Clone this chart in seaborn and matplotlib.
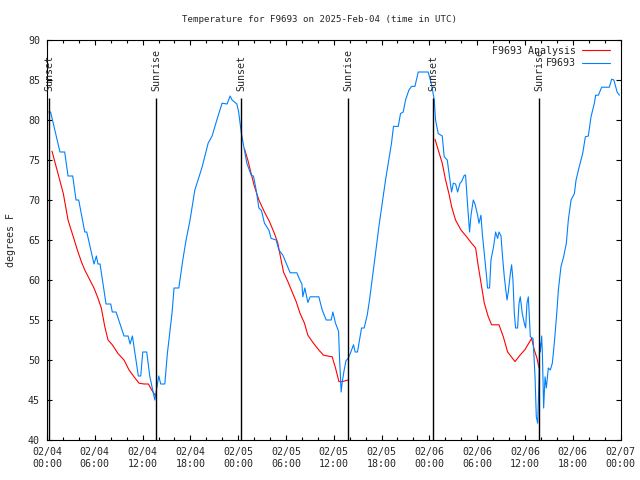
import numpy as np
import pandas as pd
import seaborn as sns
import matplotlib
matplotlib.use("Agg")
import matplotlib.pyplot as plt
import matplotlib.dates as mdates

# observed temps (hours after 2025-02-04 00:00 UTC, deg F)
obs_hours = [0.2, 0.45, 1.63, 2.22, 2.64, 3.23, 3.64, 3.98, 4.74, 4.99, 5.9, 6.2, 6.4, 6.66,
             7.41, 8.0, 8.2, 8.67, 9.67, 10.18, 10.43, 10.72, 11.47, 11.77, 12.02, 12.52, 12.9,
             13.53, 14.03, 14.28, 14.79, 15.11, 15.7, 15.95, 16.55, 17.05, 17.46, 17.96, 18.56,
             19.47, 20.23, 20.73, 21.32, 21.98, 22.61, 22.99, 23.24, 23.83, 24.06, 24.41, 24.79,
             25.09, 25.63, 25.92, 26.26, 26.6, 26.92, 27.3, 27.85, 28.14, 28.77, 29.11, 29.61,
             30.03, 30.53, 31.37, 31.7, 32.0, 32.12, 32.37, 32.75, 33.04, 34.13, 34.55, 35.05,
             35.68, 35.89, 36.22, 36.6, 36.72, 36.93, 37.06, 37.31, 37.53, 37.81, 38.07, 38.48,
             38.69, 38.98, 39.23, 39.49, 39.82, 40.2, 40.49, 40.92, 41.24, 41.67, 42.09, 42.5,
             42.84, 43.25, 43.5, 44.1, 44.38, 44.72, 45.01, 45.44, 45.77, 46.19, 46.61, 47.86,
             48.28, 48.62, 48.78, 49.12, 49.62, 49.87, 50.25, 50.59, 50.79, 51.01, 51.3, 51.55,
             51.85, 52.05, 52.39, 52.55, 52.8, 53.05, 53.23, 53.52, 53.73, 54.06, 54.23, 54.48,
             54.65, 54.9, 55.19, 55.31, 55.56, 55.74, 56.07, 56.32, 56.57, 56.75, 57.0, 57.16,
             57.41, 57.75, 57.91, 58.17, 58.33, 58.5, 58.67, 58.83, 59.08, 59.26, 59.42, 59.67,
             59.92, 60.09, 60.26, 60.43, 60.68, 61.02, 61.27, 61.43, 61.6, 61.68, 61.77, 61.85,
             61.93, 62.1, 62.19, 62.35, 62.53, 62.69, 62.94, 63.19, 63.44, 63.69, 64.03, 64.2,
             64.53, 64.86, 65.2, 65.45, 65.79, 66.21, 66.42, 66.83, 67.25, 67.59, 67.96, 68.3,
             68.72, 68.88, 69.22, 69.64, 70.6, 70.89, 71.17, 71.57, 71.86]
obs_temp = [81, 81, 76, 76, 73, 73, 70, 70, 66, 66, 62, 63, 62, 62,
            57, 57, 56, 56, 53, 53, 52, 53, 48, 48, 51, 51, 48,
            45, 48, 47, 47, 50.8, 55.9, 59, 59, 62.5, 65, 67.5, 71.25,
            74.1, 77.1, 78, 80, 82.1, 82, 83, 82.5, 82, 81, 78.3, 76.25,
            74.6, 73.1, 73, 71.25, 69, 68.7, 67.1, 66.25, 65.2, 65, 63.75, 63.1,
            62.1, 60.9, 60.9, 60.1, 59.5, 57.9, 59, 57.2, 57.9, 57.9, 56.25, 55,
            55, 56, 54.6, 53.6, 50.4, 46, 47.2, 48.75, 49.9, 50.2, 50.8, 51.9,
            51, 51, 52.5, 54, 54, 55.6, 57.5, 60.8, 63.3, 66.7, 69.6, 72.5,
            74.6, 77.1, 79.2, 79.2, 80.8, 81, 82.5, 83.75, 84.2, 84.2, 86, 86,
            84.4, 82.5, 80, 78.3, 78, 75.4, 75, 72.5, 71, 72.1, 72, 71,
            72.1, 72.3, 73.1, 73.1, 69.4, 66, 68.1, 70, 69.5, 68.1, 67.1, 68.1,
            65.8, 63.3, 60.4, 59, 59, 62.5, 64.2, 66, 65.2, 66, 65.5, 63.3,
            60.4, 57.5, 58.5, 60.8, 61.9, 60, 55.8, 54, 54, 57.1, 57.9, 55.8,
            54.6, 54, 57.1, 57.9, 52.9, 52.7, 47.9, 42.9, 42.1, 44.5, 47.9, 52.1,
            51, 53, 51, 44, 47.9, 46.5, 49, 48.75, 49.6, 52.1, 56.25, 58.75,
            61.7, 62.9, 64.6, 67.5, 70, 70.8, 72.5, 74.2, 75.8, 77.9, 78, 80.4,
            82.1, 83.1, 83.1, 84.1, 84.1, 85.1, 85, 83.5, 83.1]

# analysis temps, one piece per night (sunset to sunrise)
ana_hours = [[0.63, 1.38, 2.05, 2.64, 3.3, 3.81, 4.31, 4.74, 5.28, 5.9, 6.41, 6.82, 7.25,
              7.66, 8.2, 8.92, 9.67, 10.3, 10.93, 11.56, 12.19, 12.73, 13.15, 13.57, 13.69],
             [24.79, 25.21, 25.63, 26.04, 26.6, 27.3, 27.93, 28.56, 28.98, 29.27, 29.69, 30.24,
              30.78, 31.28, 31.78, 32.32, 32.75, 33.45, 34.13, 34.71, 35.8, 36.22, 36.65,
              37.06, 37.81],
             [48.71, 49.12, 49.62, 50.04, 50.46, 50.79, 51.29, 51.97, 52.68, 53.3, 53.81,
              54.15, 54.56, 54.9, 55.4, 55.82, 56.75, 57.29, 57.83, 58.76, 59.38, 60.01,
              60.84, 61.18, 61.52, 61.77]]
ana_temp = [[76.1, 73.3, 70.8, 67.5, 65.4, 63.75, 62.3, 61.25, 60.2, 59, 57.7, 56.5, 54.2,
             52.5, 51.9, 50.8, 50, 48.75, 47.9, 47.1, 47, 47, 46.25, 45.6, 45.5],
            [76.4, 75, 73.3, 71.7, 70, 68.5, 67.3, 65.8, 64.6, 63.1, 61, 59.8,
             58.5, 57.3, 55.8, 54.6, 53.1, 52.1, 51.25, 50.6, 50.4, 49, 47.3,
             47.3, 47.5],
            [77.6, 76.25, 74.6, 72.5, 70.8, 69.2, 67.5, 66.25, 65.4, 64.6, 64,
             61.7, 59.2, 57.1, 55.4, 54.4, 54.4, 52.9, 51, 49.8, 50.6, 51.3,
             52.7, 51.25, 50.2, 49]]

sunset_hours = [0.3, 24.4, 48.5]
sunrise_hours = [13.7, 37.8, 61.8]

base = pd.Timestamp("2025-02-04 00:00")
def to_time(h):
    return base + pd.to_timedelta(np.array(h), unit="h")

sns.set_style("ticks")
plt.rcParams['font.family'] = ['DejaVu Sans Mono', 'DejaVu Sans']
fs = 7.2

fig = plt.figure(figsize=(6.4, 4.8), dpi=100)
ax = fig.add_axes([47/640, 40/480, 573.5/640, 400/480])

for i in range(3):
    sns.lineplot(x=to_time(ana_hours[i]), y=ana_temp[i], color='#ff0000', linewidth=0.8,
                 sort=False, ax=ax, label='F9693 Analysis' if i == 0 else None)
sns.lineplot(x=to_time(obs_hours), y=obs_temp, color='#0080ff', linewidth=0.8,
             sort=False, ax=ax, label='F9693')

top = 82.75
for h in sunset_hours:
    t = to_time([h])[0]
    ax.vlines(t, 40, top, color='black', linewidth=1.0)
    ax.text(t, top + 0.9, 'Sunset', rotation=90, ha='center', va='bottom', fontsize=fs)
for h in sunrise_hours:
    t = to_time([h])[0]
    ax.vlines(t, 40, top, color='black', linewidth=1.0)
    ax.text(t, top + 0.9, 'Sunrise', rotation=90, ha='center', va='bottom', fontsize=fs)

ax.set_xlim(base, base + pd.Timedelta(hours=72))
ax.set_ylim(40, 90)
ax.set_yticks(range(40, 91, 5))
ax.xaxis.set_major_locator(mdates.HourLocator(byhour=[0, 6, 12, 18]))
ax.xaxis.set_minor_locator(mdates.HourLocator(byhour=range(0, 24, 2)))
ax.xaxis.set_major_formatter(mdates.DateFormatter('%m/%d\n%H:%M'))
ax.tick_params(which='both', direction='in', top=True, right=True, labelsize=fs, color='black')
ax.tick_params(which='major', length=3.6, width=0.8)
ax.tick_params(which='minor', length=2.2, width=0.8)
ax.tick_params(axis='x', pad=5)
ax.tick_params(axis='y', pad=5)
for s in ax.spines.values():
    s.set_visible(True)
    s.set_linewidth(0.8)
    s.set_color('black')

ax.set_xlabel('')
ax.set_ylabel('degrees F', fontsize=fs, labelpad=9)
fig.text(0.5, 1 - 20/480, 'Temperature for F9693 on 2025-Feb-04 (time in UTC)',
         fontsize=6.6, ha='center', va='center')

ax.legend(loc='upper right', bbox_to_anchor=(1 - 11/573.5, 1 - 6/400), frameon=False,
          markerfirst=False, fontsize=fs, handlelength=2.8, handletextpad=0.6,
          labelspacing=0.25, borderpad=0, borderaxespad=0)

fig.savefig('out.png', dpi=100)
